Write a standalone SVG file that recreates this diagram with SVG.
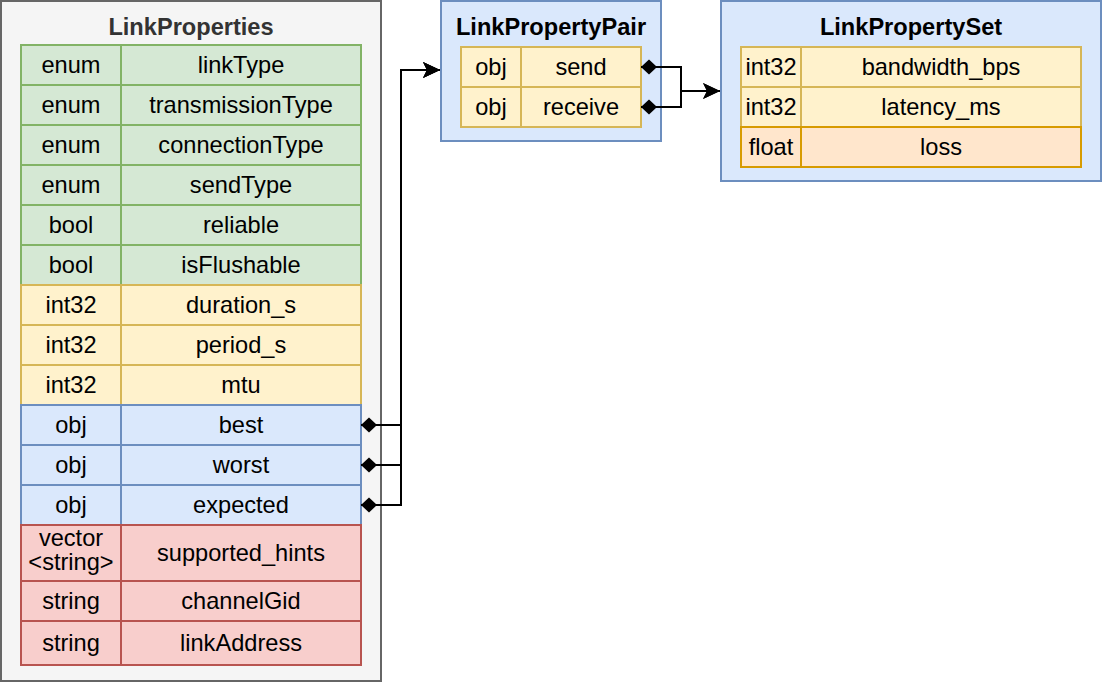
<svg xmlns="http://www.w3.org/2000/svg" width="1102" height="682" viewBox="0 0 1102 682">
<style>
text{font-family:"Liberation Sans",Arial,Helvetica,sans-serif;font-size:23.6px;fill:#000;text-anchor:middle}
.title{font-weight:bold;font-size:23.6px}
.g{fill:#d5e8d4;stroke:#82b366;stroke-width:2}
.y{fill:#fff2cc;stroke:#d6b656;stroke-width:2}
.b{fill:#dae8fc;stroke:#6c8ebf;stroke-width:2}
.r{fill:#f8cecc;stroke:#b85450;stroke-width:2}
.o{fill:#ffe6cc;stroke:#d79b00;stroke-width:2}
.outer{fill:#f5f5f5;stroke:#666666;stroke-width:2}
.edge{fill:none;stroke:#000;stroke-width:2;marker-start:url(#dia);marker-end:url(#arr)}
</style>
<defs>
<marker id="dia" markerUnits="userSpaceOnUse" markerWidth="16" markerHeight="16" refX="0" refY="8" orient="auto" overflow="visible">
<path d="M0,8 L8,0.5 L16,8 L8,15.5 z" fill="#000"/>
</marker>
<marker id="arr" markerUnits="userSpaceOnUse" markerWidth="18" markerHeight="17" refX="17" refY="8.5" orient="auto" overflow="visible">
<path d="M0,0.5 L17,8.5 L0,16.5 L4,8.5 z" fill="#000"/>
</marker>
</defs>

<g id="LinkProperties">
<rect class="outer" x="1" y="1" width="380" height="680"/>
<text class="title" x="191" y="35" style="fill:#333333">LinkProperties</text>
<g id="lp-linkType"><rect class="g" x="21" y="45" width="100" height="40"/><rect class="g" x="121" y="45" width="240" height="40"/><text x="71" y="73">enum</text><text x="241" y="73">linkType</text></g>
<g id="lp-transmissionType"><rect class="g" x="21" y="85" width="100" height="40"/><rect class="g" x="121" y="85" width="240" height="40"/><text x="71" y="113">enum</text><text x="241" y="113">transmissionType</text></g>
<g id="lp-connectionType"><rect class="g" x="21" y="125" width="100" height="40"/><rect class="g" x="121" y="125" width="240" height="40"/><text x="71" y="153">enum</text><text x="241" y="153">connectionType</text></g>
<g id="lp-sendType"><rect class="g" x="21" y="165" width="100" height="40"/><rect class="g" x="121" y="165" width="240" height="40"/><text x="71" y="193">enum</text><text x="241" y="193">sendType</text></g>
<g id="lp-reliable"><rect class="g" x="21" y="205" width="100" height="40"/><rect class="g" x="121" y="205" width="240" height="40"/><text x="71" y="233">bool</text><text x="241" y="233">reliable</text></g>
<g id="lp-isFlushable"><rect class="g" x="21" y="245" width="100" height="40"/><rect class="g" x="121" y="245" width="240" height="40"/><text x="71" y="273">bool</text><text x="241" y="273">isFlushable</text></g>
<g id="lp-duration"><rect class="y" x="21" y="285" width="100" height="40"/><rect class="y" x="121" y="285" width="240" height="40"/><text x="71" y="313">int32</text><text x="241" y="313">duration_s</text></g>
<g id="lp-period"><rect class="y" x="21" y="325" width="100" height="40"/><rect class="y" x="121" y="325" width="240" height="40"/><text x="71" y="353">int32</text><text x="241" y="353">period_s</text></g>
<g id="lp-mtu"><rect class="y" x="21" y="365" width="100" height="40"/><rect class="y" x="121" y="365" width="240" height="40"/><text x="71" y="393">int32</text><text x="241" y="393">mtu</text></g>
<g id="lp-best"><rect class="b" x="21" y="405" width="100" height="40"/><rect class="b" x="121" y="405" width="240" height="40"/><text x="71" y="433">obj</text><text x="241" y="433">best</text></g>
<g id="lp-worst"><rect class="b" x="21" y="445" width="100" height="40"/><rect class="b" x="121" y="445" width="240" height="40"/><text x="71" y="473">obj</text><text x="241" y="473">worst</text></g>
<g id="lp-expected"><rect class="b" x="21" y="485" width="100" height="40"/><rect class="b" x="121" y="485" width="240" height="40"/><text x="71" y="513">obj</text><text x="241" y="513">expected</text></g>
<g id="lp-supported_hints"><rect class="r" x="21" y="525" width="100" height="56"/><rect class="r" x="121" y="525" width="240" height="56"/><text x="71" y="546">vector</text><text x="71" y="570">&lt;string&gt;</text><text x="241" y="561">supported_hints</text></g>
<g id="lp-channelGid"><rect class="r" x="21" y="581" width="100" height="40"/><rect class="r" x="121" y="581" width="240" height="40"/><text x="71" y="609">string</text><text x="241" y="609">channelGid</text></g>
<g id="lp-linkAddress"><rect class="r" x="21" y="621" width="100" height="44"/><rect class="r" x="121" y="621" width="240" height="44"/><text x="71" y="651">string</text><text x="241" y="651">linkAddress</text></g>
</g>

<g id="LinkPropertyPair">
<rect class="b" x="441" y="1" width="220" height="140"/>
<text class="title" x="551" y="35">LinkPropertyPair</text>
<g id="lpp-send"><rect class="y" x="461" y="47" width="60" height="40"/><rect class="y" x="521" y="47" width="120" height="40"/><text x="491" y="75">obj</text><text x="581" y="75">send</text></g>
<g id="lpp-receive"><rect class="y" x="461" y="87" width="60" height="40"/><rect class="y" x="521" y="87" width="120" height="40"/><text x="491" y="115">obj</text><text x="581" y="115">receive</text></g>
</g>

<g id="LinkPropertySet">
<rect class="b" x="721" y="1" width="380" height="180"/>
<text class="title" x="911" y="35">LinkPropertySet</text>
<g id="lps-bandwidth"><rect class="y" x="741" y="47" width="60" height="40"/><rect class="y" x="801" y="47" width="280" height="40"/><text x="771" y="75">int32</text><text x="941" y="75">bandwidth_bps</text></g>
<g id="lps-latency"><rect class="y" x="741" y="87" width="60" height="40"/><rect class="y" x="801" y="87" width="280" height="40"/><text x="771" y="115">int32</text><text x="941" y="115">latency_ms</text></g>
<g id="lps-loss"><rect class="o" x="741" y="127" width="60" height="40"/><rect class="o" x="801" y="127" width="280" height="40"/><text x="771" y="155">float</text><text x="941" y="155">loss</text></g>
</g>

<g id="connectors">
<path class="edge" d="M361,425 H401 V70 H440"/>
<path class="edge" d="M361,465 H401 V70 H440"/>
<path class="edge" d="M361,505 H401 V70 H440"/>
<path class="edge" d="M641,67 H681 V91 H720"/>
<path class="edge" d="M641,107 H681 V91 H720"/>
</g>
</svg>
